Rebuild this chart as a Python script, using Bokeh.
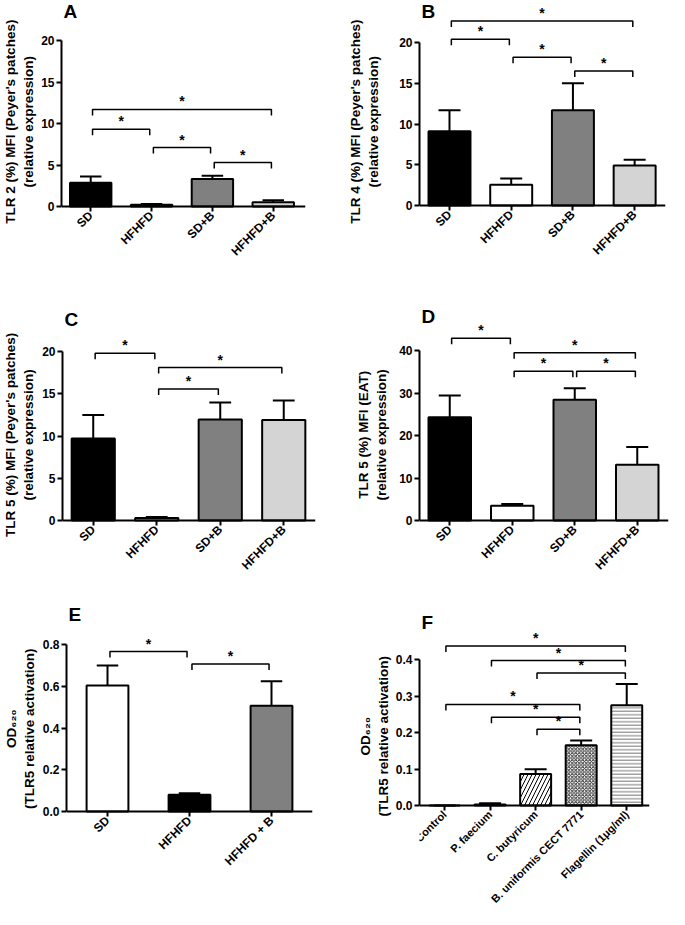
import math
from bokeh.plotting import figure
from bokeh.layouts import row, column
from bokeh.models import FixedTicker, Label, PrintfTickFormatter, Range1d, LinearAxis
from bokeh.embed import file_html
from bokeh.resources import INLINE
from bokeh.core.properties import value

FONT = "Liberation Sans"

# ---------------- data ----------------
groups4 = ["SD", "HFHFD", "SD+B", "HFHFD+B"]
colors4 = ["#000000", "#ffffff", "#808080", "#d4d4d4"]

a_mean = [2.85, 0.2, 3.3, 0.5]
a_err = [0.75, 0.1, 0.4, 0.25]
a_yticks = [0, 5, 10, 15, 20]
a_brackets = [(0, 1, 9.3), (1, 2, 7.1), (2, 3, 5.3), (0, 3, 11.7)]

b_mean = [9.1, 2.55, 11.7, 4.9]
b_err = [2.6, 0.75, 3.3, 0.7]
b_yticks = [0, 5, 10, 15, 20]
b_brackets = [(0, 1, 20.4), (1, 2, 18.2), (2, 3, 16.5), (0, 3, 22.65)]

c_mean = [9.7, 0.3, 11.95, 11.9]
c_err = [2.8, 0.1, 2.0, 2.3]
c_yticks = [0, 5, 10, 15, 20]
c_brackets = [(0, 1, 19.8), (1, 2, 15.55), (1, 3, 18.1)]

d_mean = [24.3, 3.5, 28.4, 13.1]
d_err = [5.1, 0.4, 2.7, 4.2]
d_yticks = [0, 10, 20, 30, 40]
d_brackets = [(0, 1, 42.9), (1, 2, 35.1), (2, 3, 35.1), (1, 3, 39.5)]

e_groups = ["SD", "HFHFD", "HFHFD + B"]
e_colors = ["#ffffff", "#000000", "#808080"]
e_mean = [0.603, 0.08, 0.506]
e_err = [0.096, 0.008, 0.118]
e_yticks = [0.0, 0.2, 0.4, 0.6, 0.8]
e_brackets = [(0, 1, 0.766), (1, 2, 0.707)]

f_groups = ["Control", "P. faecium", "C. butyricum", "B. uniformis CECT 7771", "Flagellin (1\u03bcg/ml)"]
f_colors = ["#ffffff", "#000000", "#ffffff", "#ffffff", "#ffffff"]
f_hatch = [" ", " ", "/", "x", "-"]
f_hatch_scale = [8, 8, 8, 3.5, 3.5]
f_hatch_color = ["black", "black", "black", "#333333", "#777777"]
f_mean = [0.0, 0.003, 0.086, 0.165, 0.275]
f_err = [0.0, 0.003, 0.013, 0.013, 0.058]
f_yticks = [0.0, 0.1, 0.2, 0.3, 0.4]
f_brackets = [(0, 4, 0.437), (1, 4, 0.397), (2, 4, 0.363),
              (0, 3, 0.277), (1, 3, 0.242), (2, 3, 0.209)]

y_label_tlr2 = ["TLR 2 (%) MFI (Peyer's patches)", "(relative expression)"]
y_label_tlr4 = ["TLR 4 (%) MFI (Peyer's patches)", "(relative expression)"]
y_label_tlr5 = ["TLR 5 (%) MFI (Peyer's patches)", "(relative expression)"]
y_label_eat = ["TLR 5 (%) MFI (EAT)", "(relative expression)"]
y_label_od = ["OD\u2086\u2082\u2080", "(TLR5 relative activation)"]


def panel(W, H, fl, fr, p0, p1, lead, yticks, xs, xe, cats, ylabel_lines, standoff,
          letter, letter_px, mean, err, colors, bar_w, brackets,
          yfmt=None, xlab_size="12px", hatch=None):
    # The frame fills the whole height; the category axis sits at y = 0 inside it.
    ymax = yticks[-1]
    sx = (fr - fl) / (xe - xs)
    sy = (p0 - p1) / ymax
    ystart = -(H - p0) / sy
    yend = p0 / sy
    p = figure(width=W, height=H, x_range=Range1d(xs, xe), y_range=Range1d(ystart, yend),
               min_border_left=fl, min_border_right=W - fr, min_border_top=0,
               min_border_bottom=0, output_backend="svg",
               toolbar_location=None, tools="", x_axis_location=None)
    p.outline_line_color = None
    p.xgrid.visible = False
    p.ygrid.visible = False
    p.background_fill_color = "white"
    p.border_fill_color = "white"

    n = len(cats)
    idx = list(range(n))
    xa = LinearAxis(fixed_location=0, ticker=FixedTicker(ticks=idx))
    p.add_layout(xa, "below")

    for ax in (xa, p.yaxis[0]):
        ax.axis_line_width = 2
        ax.axis_line_color = "black"
        ax.major_tick_line_width = 2
        ax.major_tick_line_color = "black"
        ax.minor_tick_line_color = None
        ax.major_tick_in = 0
        ax.major_tick_out = 5
        ax.major_label_text_font = FONT
        ax.major_label_text_font_style = "bold"
        ax.major_label_text_color = "black"
        ax.major_label_standoff = 2

    ya = p.yaxis[0]
    ya.bounds = (0, ymax)
    ya.ticker = FixedTicker(ticks=yticks)
    ya.major_label_text_font_size = "12px"
    if yfmt:
        ya.formatter = PrintfTickFormatter(format=yfmt)
    # the title is centred on the frame; leading no-break spaces raise the
    # visible text so that it sits alongside the drawn axis
    pad = "\u00a0" * lead
    ya.axis_label = "\n".join(pad + line for line in ylabel_lines)
    ya.axis_label_text_font = FONT
    ya.axis_label_text_font_style = "bold"
    ya.axis_label_text_font_size = "13.5px"
    ya.axis_label_text_color = "black"
    ya.axis_label_standoff = standoff

    xa.major_label_overrides = {i: c for i, c in enumerate(cats)}
    xa.major_label_orientation = math.pi / 4
    xa.major_label_text_font_size = xlab_size

    kw = {}
    if hatch:
        kw = dict(hatch_pattern=hatch[0], hatch_scale=hatch[1], hatch_color=hatch[2],
                  hatch_weight=1)
    p.vbar(x=idx, top=mean, bottom=0, width=bar_w, fill_color=colors,
           line_color="black", line_width=2, **kw)

    tops = [m + e for m, e in zip(mean, err)]
    cap = 11 / sx
    p.segment(x0=idx, y0=mean, x1=idx, y1=tops, line_color="black", line_width=2)
    p.segment(x0=[i - cap for i in idx], y0=tops, x1=[i + cap for i in idx], y1=tops,
              line_color="black", line_width=2)

    drop = 6 / sy
    inset = 0.03
    bxs, bys, sxs, sys_ = [], [], [], []
    for a, b, h in brackets:
        x0, x1 = a + inset, b - inset
        bxs.append([x0, x0, x1, x1])
        bys.append([h - drop, h, h, h - drop])
        sxs.append((a + b) / 2)
        sys_.append(h)
    p.multi_line(xs=bxs, ys=bys, line_color="black", line_width=1.5)
    p.text(x=sxs, y=sys_, text=["*"] * len(sxs), text_align="center",
           text_baseline="bottom", text_font=value(FONT), text_font_style="bold",
           text_font_size="14px", text_color="black")

    lx, ly = letter_px
    p.add_layout(Label(x=xs + (lx - fl) / sx, y=(p0 - ly) / sy, text=letter,
                       text_font=FONT, text_font_style="bold", text_font_size="19px",
                       text_baseline="top", text_align="left", text_color="black"))
    return p


pA = panel(332, 280, 55, 305, 206, 40, 10, a_yticks, -0.48, 3.53, groups4,
           y_label_tlr2, 2, "A", (57, 0), a_mean, a_err, colors4, 0.68, a_brackets)
pB = panel(337, 280, 87, 333, 205, 42, 10, b_yticks, -0.486, 3.50, groups4,
           y_label_tlr4, 15, "B", (89, 0), b_mean, b_err, colors4, 0.68, b_brackets)
pC = panel(332, 320, 60, 315, 240, 71, 3, c_yticks, -0.484, 3.50, groups4,
           y_label_tlr5, 3, "C", (62, 28), c_mean, c_err, colors4, 0.68, c_brackets)
pD = panel(337, 320, 87, 336, 240, 70, 3, d_yticks, -0.484, 3.50, groups4,
           y_label_eat, 7, "D", (89, 25), d_mean, d_err, colors4, 0.68, d_brackets)
pE = panel(332, 309, 60, 312, 211, 44, 14, e_yticks, -0.5, 2.5, e_groups,
           y_label_od, 3, "E", (62, 3), e_mean, e_err, e_colors, 0.51, e_brackets,
           yfmt="%.1f")
pF = panel(337, 309, 87, 317, 205, 59, 10, f_yticks, -0.55, 4.5, f_groups,
           y_label_od, 2, "F", (89, 11), f_mean, f_err, f_colors, 0.68, f_brackets,
           yfmt="%.1f", xlab_size="11px", hatch=(f_hatch, f_hatch_scale, f_hatch_color))

layout = column(row(pA, pB), row(pC, pD), row(pE, pF))
open("out.html", "w").write(file_html(layout, INLINE))
